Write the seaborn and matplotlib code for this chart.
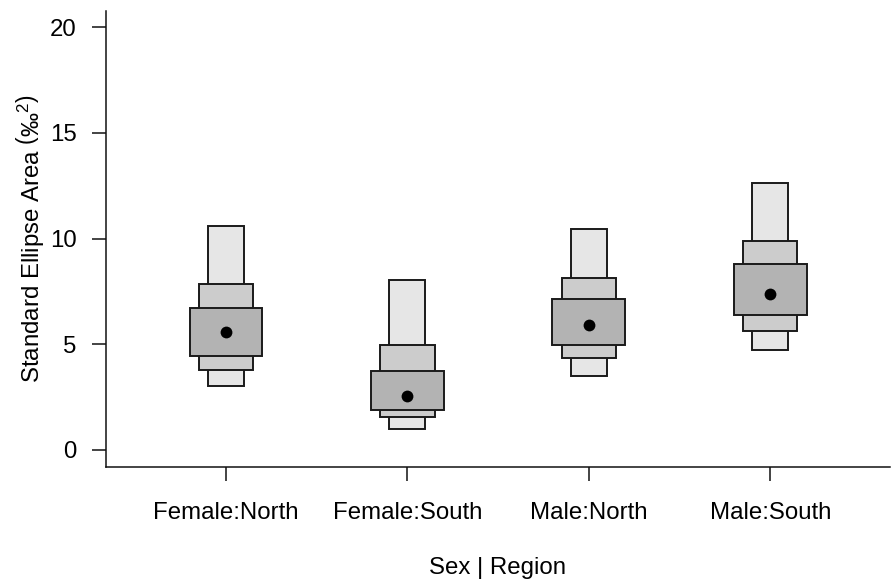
import matplotlib
matplotlib.use("Agg")
import matplotlib.pyplot as plt
import seaborn as sns
import pandas as pd

# Posterior SEA credible intervals per group (95%, 75%, 50%) and modes
groups = ["Female:North", "Female:South", "Male:North", "Male:South"]
ci95_low = [3.03, 1.00, 3.49, 4.71]
ci95_high = [10.60, 8.03, 10.44, 12.65]
ci75_low = [3.79, 1.56, 4.34, 5.64]
ci75_high = [7.86, 4.94, 8.14, 9.87]
ci50_low = [4.42, 1.89, 4.97, 6.36]
ci50_high = [6.71, 3.71, 7.13, 8.80]
mode = [5.60, 2.57, 5.90, 7.40]

y_ticks = [0, 5, 10, 15, 20]

sns.set_theme(style="ticks")
plt.rcParams["font.family"] = ["Liberation Sans", "DejaVu Sans"]
plt.rcParams["mathtext.fontset"] = "custom"
plt.rcParams["mathtext.rm"] = "Liberation Sans"
plt.rcParams["mathtext.it"] = "Liberation Sans:italic"
plt.rcParams["mathtext.bf"] = "Liberation Sans:bold"

fig = plt.figure(figsize=(8.94, 5.83), dpi=100)
ax = fig.add_axes([105.7 / 894, 1 - 466.7 / 583, (890 - 105.7) / 894, (466.7 - 10.5) / 583])

edge = "#1a1a1a"
layers = [
    (ci95_low, ci95_high, 0.20, "#E6E6E6"),
    (ci75_low, ci75_high, 0.30, "#CCCCCC"),
    (ci50_low, ci50_high, 0.40, "#B3B3B3"),
]
for low, high, w, col in layers:
    df = pd.DataFrame({"group": groups, "span": [h - l for l, h in zip(low, high)]})
    sns.barplot(data=df, x="group", y="span", order=groups, bottom=low,
                width=w, color=col, saturation=1, errorbar=None,
                edgecolor=edge, linewidth=1.4, ax=ax, zorder=2)

mdf = pd.DataFrame({"group": groups, "mode": mode})
sns.stripplot(data=mdf, x="group", y="mode", order=groups, jitter=False,
              color="black", size=8.5, linewidth=0, ax=ax, zorder=5)

ax.set_xlim(-0.662, 3.66)
ax.set_ylim(-0.8, 20.8)
ax.set_yticks(y_ticks)
ax.set_yticklabels([str(t) for t in y_ticks])

for s in ["top", "right"]:
    ax.spines[s].set_visible(False)
for s in ["left", "bottom"]:
    ax.spines[s].set_linewidth(1.1)
    ax.spines[s].set_color("#111111")

ax.tick_params(axis="both", length=10, width=1.1, color="#111111",
               labelsize=17.3, labelcolor="black")
ax.tick_params(axis="x", pad=15.5)
ax.tick_params(axis="y", pad=11)

ax.set_xlabel("Sex | Region", fontsize=17.3, color="black")
ax.set_ylabel(r"Standard Ellipse Area $\left(\mathrm{‰}^{2}\right)$",
              fontsize=17.3, color="black")
ax.xaxis.set_label_coords(0.5, -0.198)
ax.yaxis.set_label_coords(-0.076, 0.5)

fig.savefig("out.png", dpi=100, facecolor="white")
